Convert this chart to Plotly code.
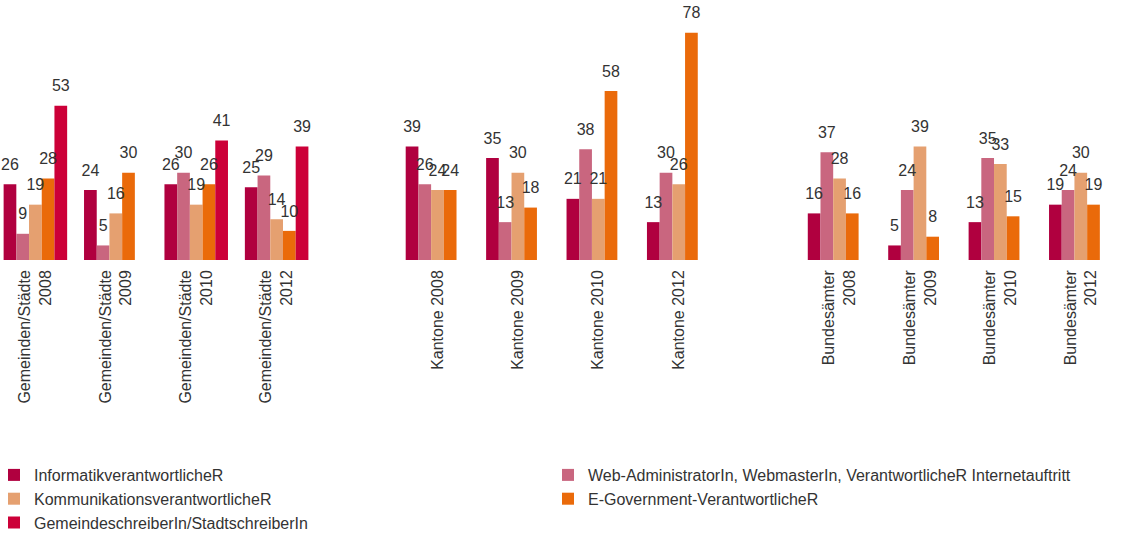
import plotly.graph_objects as go

categories = [
    "Gemeinden/Städte<br>2008", "Gemeinden/Städte<br>2009", "Gemeinden/Städte<br>2010", "Gemeinden/Städte<br>2012",
    " ",
    "Kantone 2008", "Kantone 2009", "Kantone 2010", "Kantone 2012",
    "  ",
    "Bundesämter<br>2008", "Bundesämter<br>2009", "Bundesämter<br>2010", "Bundesämter<br>2012",
]

series_names = [
    "InformatikverantwortlicheR",
    "Web-AdministratorIn, WebmasterIn, VerantwortlicheR Internetauftritt",
    "KommunikationsverantwortlicheR",
    "E-Government-VerantwortlicheR",
    "GemeindeschreiberIn/StadtschreiberIn",
]

informatik = [26, 24, 26, 25, None, 39, 35, 21, 13, None, 16, 5, 13, 19]
web_admin = [9, 5, 30, 29, None, 26, 13, 38, 30, None, 37, 24, 35, 24]
kommunikation = [19, 16, 19, 14, None, 24, 30, 21, 26, None, 28, 39, 33, 30]
egov = [28, 30, 26, 10, None, 24, 18, 58, 78, None, 16, 8, 15, 19]
gemeindeschreiber = [53, None, 41, 39, None, None, None, None, None, None, None, None, None, None]

colors = ["#b0003f", "#c9667f", "#e5a070", "#ea6a0a", "#cc0038"]

series_values = [informatik, web_admin, kommunikation, egov, gemeindeschreiber]

FONT = "Liberation Sans, Arial, sans-serif"
GAP = 0.21

fig = go.Figure()
for i, (name, vals, col) in enumerate(zip(series_names, series_values, colors)):
    fig.add_trace(go.Bar(
        x=categories, y=vals, name=name,
        offsetgroup=str(i),
        marker=dict(color=col, line=dict(width=0)),
        hoverinfo="x+y+name",
    ))
for i, vals in enumerate(series_values):
    fig.add_trace(go.Scatter(
        x=categories, y=vals,
        mode="markers+text",
        offsetgroup=str(i),
        text=[("" if v is None else str(v)) for v in vals],
        textposition="top center",
        marker=dict(size=15, opacity=0),
        textfont=dict(family=FONT, size=16, color="#333333"),
        showlegend=False, hoverinfo="skip", cliponaxis=False,
    ))

fig.update_layout(
    width=1121, height=540,
    margin=dict(l=0, r=0, t=27, b=279),
    paper_bgcolor="white", plot_bgcolor="white",
    barmode="group", bargap=GAP, bargroupgap=0,
    scattermode="group", scattergap=GAP,
    font=dict(family=FONT, size=16, color="#333333"),
    showlegend=True,
    legend=dict(
        orientation="h",
        x=0, xanchor="left",
        y=-0.846, yanchor="top",
        indentation=-6,
        entrywidth=515, entrywidthmode="pixels",
        font=dict(family=FONT, size=16, color="#333333"),
        bgcolor="rgba(0,0,0,0)",
        traceorder="normal",
    ),
    xaxis=dict(
        type="category", categoryorder="array", categoryarray=categories,
        range=[-0.44, 13.5],
        tickangle=-90, showgrid=False, showline=False, zeroline=False,
        ticks="", automargin=False, ticklabelstandoff=6,
        tickfont=dict(family=FONT, size=16, color="#333333"),
    ),
    yaxis=dict(
        visible=False, range=[0, 80], showgrid=False, zeroline=False,
    ),
)

fig.write_html("out.html", config={"displayModeBar": False},
               post_script="document.body.style.margin='0px';")
